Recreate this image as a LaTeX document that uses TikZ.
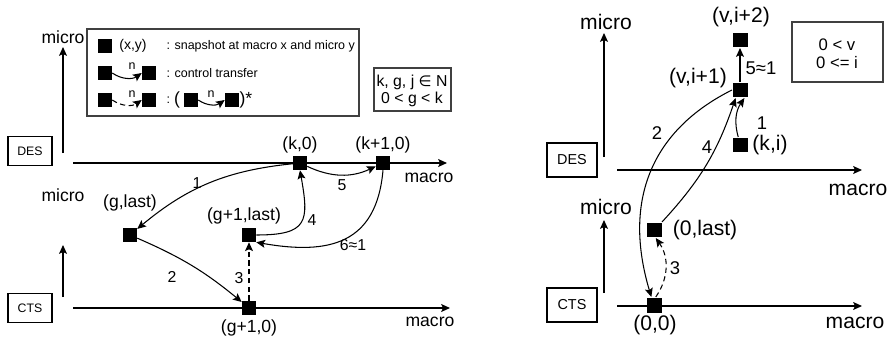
\documentclass[tikz,border=0pt]{standalone}
\usepackage{fontspec}
\setmainfont{Liberation Sans}
\newfontfamily\symfont{DejaVu Sans}
\usetikzlibrary{arrows.meta}

\tikzset{
  snap/.style={fill=black, inner sep=0pt, minimum size=0.27cm},
  bigsnap/.style={snap, minimum size=0.3cm},
  lab/.style={font=\fontsize{10}{12}\selectfont, inner sep=0pt},
  biglab/.style={font=\fontsize{12}{14}\selectfont, inner sep=0pt},
  num/.style={font=\fontsize{9}{11}\selectfont, inner sep=0pt},
  bignum/.style={font=\fontsize{10.5}{12}\selectfont, inner sep=0pt},
  keytext/.style={font=\fontsize{7.1}{9}\selectfont, inner sep=0pt, anchor=west},
  sysbox/.style={draw, minimum width=0.88cm, minimum height=0.58cm,
    font=\fontsize{7}{8}\selectfont},
  bigsysbox/.style={sysbox, minimum width=1cm, minimum height=0.68cm,
    font=\fontsize{8.2}{9}\selectfont},
  frame/.style={draw=black!75},
  jump/.style={dash pattern=on 3pt off 2pt}
}

\begin{document}
\begin{tikzpicture}[x=0.02cm, y=-0.02cm, line width=0.6pt,
  >={Stealth[length=5pt, width=4.5pt, inset=1pt]}]
\useasboundingbox (0,0) rectangle (887,338);

% Left: key
\draw[frame] (87,29) rectangle (359,116);
\node[snap] (keyA) at (105,46) {};
\node[font=\fontsize{8}{10}\selectfont, inner sep=0pt] (keyAlab) at (133,46) {(x,y)};
\node[keytext] (keyAtxt) at (166,46) {: snapshot at macro x and micro y};
\node[snap] (keyB1) at (105,73) {};
\node[snap] (keyB2) at (149,73) {};
\draw[->] (keyB1.east) to[bend right=35] (keyB2.west);
\node[keytext, anchor=center] (keyBn) at (132,66) {n};
\node[keytext] (keyBtxt) at (166,73) {: control transfer};
\node[snap] (keyC1) at (105,100) {};
\node[snap] (keyC2) at (149,100) {};
\draw[->, jump] (keyC1.east) to[bend right=35] (keyC2.west);
\node[keytext, anchor=center] (keyCn) at (132,94) {n};
\node[keytext] (keyCtxt) at (166,100) {:};
\node[lab] (keyopen) at (177,100) {(};
\node[snap] (keyD1) at (191,100) {};
\node[snap] (keyD2) at (232,100) {};
\draw[->] (keyD1.east) to[bend right=35] (keyD2.west);
\node[keytext, anchor=center] (keyDn) at (211,94) {n};
\node[lab, anchor=west] (keyclose) at (239,100) {)*};

\draw[frame] (374,68) rectangle (451,111);
\node[font=\fontsize{9}{11}\selectfont, inner sep=0pt] (setsL1) at (412,82) {k, g, j {\symfont\fontsize{8.5}{10}\selectfont ∈} N};
\node[font=\fontsize{9}{11}\selectfont, inner sep=0pt] (setsL2) at (412,99) {0 < g < k};

% Left: axes
\node[sysbox] (desL) at (30,151) {DES};
\coordinate (desLb) at (63,153);
\coordinate (desLt) at (63,47);
\draw[->] (desLb) -- (desLt);
\node[lab] (desLmicro) at (63,37) {micro};
\coordinate (desLo) at (73,163);
\coordinate (desLe) at (447,163);
\draw[->] (desLo) -- (desLe);
\node[lab] (desLmacro) at (429,178) {macro};

\node[sysbox] (ctsL) at (30,308) {CTS};
\coordinate (ctsLb) at (63,297);
\coordinate (ctsLt) at (63,245);
\draw[->] (ctsLb) -- (ctsLt);
\node[lab] (ctsLmicro) at (63,195) {micro};
\coordinate (ctsLo) at (73,308);
\coordinate (ctsLe) at (450,308);
\draw[->] (ctsLo) -- (ctsLe);
\node[lab] (ctsLmacro) at (430,322) {macro};

% Left: snapshots
\node[snap] (k0) at (300,163) {};
\node[snap] (k1) at (383,163) {};
\node[snap] (glast) at (130,235) {};
\node[snap] (g1last) at (249,235) {};
\node[snap] (g10) at (249,308) {};
\node[lab] (k0lab) at (300,145) {(k,0)};
\node[lab] (k1lab) at (383,145) {(k+1,0)};
\node[lab] (glastlab) at (130,203) {(g,last)};
\node[lab] (g1lastlab) at (244,216) {(g+1,last)};
\node[lab] (g10lab) at (249,328) {(g+1,0)};

\draw[->] (k0) to[bend right=17] (glast);
\draw[->] (glast) to[bend left=8] (g10);
\draw[->, jump] (g10) -- (g1last);
\draw[->] (g1last.east) to[out=0, in=-80, looseness=1.7] (k0.south);
\draw[->] (k0) to[bend right=25] (k1);
\draw[->] (k1.south) to[out=-95, in=-10, looseness=1.3] (g1last.south east);
\node[num] (e1) at (197,183) {1};
\node[num] (e2) at (172,277) {2};
\node[num] (e3) at (239,278) {3};
\node[num] (e4) at (312,220) {4};
\node[num] (e5) at (342,185) {5};
\node[num] (e6) at (353,245) {6≈1};

% Right: axes
\node[bigsysbox] (desR) at (572,160) {DES};
\coordinate (desRb) at (604,157);
\coordinate (desRt) at (604,33);
\draw[->] (desRb) -- (desRt);
\node[biglab] (desRmicro) at (606,22) {micro};
\coordinate (desRo) at (617,170);
\coordinate (desRe) at (862,170);
\draw[->] (desRo) -- (desRe);
\node[biglab] (desRmacro) at (858,190) {macro};

\node[bigsysbox] (ctsR) at (572,305) {CTS};
\coordinate (ctsRb) at (604,293);
\coordinate (ctsRt) at (604,220);
\draw[->] (ctsRb) -- (ctsRt);
\node[biglab] (ctsRmicro) at (606,207) {micro};
\coordinate (ctsRo) at (617,306);
\coordinate (ctsRe) at (862,306);
\draw[->] (ctsRo) -- (ctsRe);
\node[biglab] (ctsRmacro) at (855,323) {macro};

\draw[frame] (792,22) rectangle (883,82);
\node[font=\fontsize{9.5}{11}\selectfont, inner sep=0pt] (setsR1) at (837,45) {0 < v};
\node[font=\fontsize{9.5}{11}\selectfont, inner sep=0pt] (setsR2) at (837,63) {0 <= i};

% Right: snapshots
\node[bigsnap] (vi2) at (740,40) {};
\node[bigsnap] (vi1) at (740,90) {};
\node[bigsnap] (ki) at (740,145) {};
\node[bigsnap] (zlast) at (654,230) {};
\node[bigsnap] (zz) at (654,305) {};
\node[biglab] (vi2lab) at (741,17) {(v,i+2)};
\node[biglab] (vi1lab) at (698,78) {(v,i+1)};
\node[biglab] (kilab) at (770,145) {(k,i)};
\node[biglab] (zlastlab) at (705,230) {(0,last)};
\node[biglab] (zzlab) at (655,325) {(0,0)};

\draw[->] (vi1) -- (vi2);
\draw[->] ([xshift=-1pt]ki.north) to[bend left=25] ([xshift=2.5pt]vi1.south);
\draw[->] (zlast.north east) to[bend right=12] ([xshift=-2.5pt]vi1.south);
\draw[->] (vi1.west) .. controls +(-80,40) and +(-29,-97) .. ([xshift=-1.5pt]zz.north);
\draw[->, jump] ([xshift=1pt]zz.north) to[bend right=35] ([xshift=1pt]zlast.south);
\node[bignum] (r5) at (761,68) {5≈1};
\node[bignum] (r1) at (762,123) {1};
\node[bignum] (r4) at (707,147) {4};
\node[bignum] (r2) at (657,133) {2};
\node[bignum] (r3) at (675,268) {3};
\end{tikzpicture}
\end{document}
